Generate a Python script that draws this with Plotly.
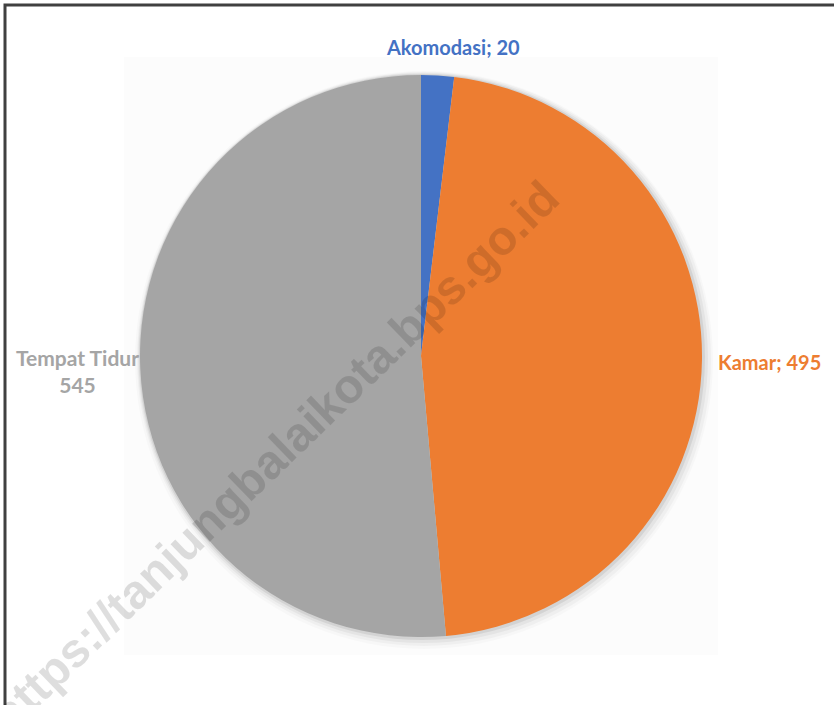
import plotly.graph_objects as go

categories = ["Akomodasi", "Kamar", "Tempat Tidur"]
values = [20, 495, 545]
colors = ["#4472C4", "#ED7D31", "#A5A5A5"]
watermark = "https://tanjungbalaikota.bps.go.id"

W, H = 834, 705
cx, cy, r = 421, 356, 281


def dom(rad, dx=0, dy=0):
    return dict(x=[(cx + dx - rad) / W, (cx + dx + rad) / W],
                y=[1 - (cy + dy + rad) / H, 1 - (cy + dy - rad) / H])


fig = go.Figure()

# soft shadow layers
for rad, dx, dy, a in [(r + 8, 3, 4, 0.02), (r + 6, 3, 3, 0.03), (r + 4, 2, 2, 0.045), (r + 2, 1, 1, 0.07)]:
    fig.add_trace(go.Pie(values=[1], labels=["s"], marker=dict(colors=[f"rgba(0,0,0,{a})"], line=dict(width=0)),
                         textinfo="none", hoverinfo="skip", showlegend=False, domain=dom(rad, dx, dy), sort=False))

fig.add_trace(go.Pie(
    labels=categories, values=values, sort=False, direction="clockwise", rotation=0,
    marker=dict(colors=colors, line=dict(width=0)),
    textinfo="none", showlegend=False, domain=dom(r),
))

lbl_font = "Lato, 'Open Sans', sans-serif"
anns = [
    dict(text=f"<b>{categories[0]}; {values[0]}</b>", x=453, y=47, color=colors[0], size=20),
    dict(text=f"<b>{categories[1]}; {values[1]}</b>", x=769, y=362, color=colors[1], size=20),
    dict(text=f"<b>{categories[2]}</b><br><b>{values[2]}</b>", x=77, y=371, color=colors[2], size=21),
]
for a in anns:
    fig.add_annotation(text=a["text"], x=a["x"] / W, y=1 - a["y"] / H, xref="paper", yref="paper",
                       showarrow=False, xanchor="center", yanchor="middle", align="center",
                       font=dict(family=lbl_font, size=a["size"], color=a["color"]))

fig.add_annotation(text=f"<b>{watermark}</b>", x=274 / W, y=1 - 456 / H, xref="paper", yref="paper",
                   showarrow=False, textangle=-44, xanchor="center", yanchor="middle",
                   font=dict(family="Liberation Sans, Arial, sans-serif", size=48, color="rgba(0,0,0,0.13)"))

fig.update_layout(
    width=W, height=H, margin=dict(l=0, r=0, t=0, b=0),
    paper_bgcolor="white", plot_bgcolor="white",
    shapes=[
        dict(type="rect", xref="paper", yref="paper", x0=124 / W, x1=718 / W, y0=1 - 655 / H, y1=1 - 57 / H,
             fillcolor="#fcfcfc", line=dict(width=0), layer="below"),
        dict(type="rect", xref="paper", yref="paper", x0=5 / W, x1=1.02, y0=-0.02, y1=1 - 5 / H,
             fillcolor="rgba(0,0,0,0)", line=dict(color="#404040", width=3), layer="above"),
    ],
)

fig.write_html("out.html", config={"displayModeBar": False},
               post_script="document.body.style.margin='0';document.body.style.overflow='hidden';")
